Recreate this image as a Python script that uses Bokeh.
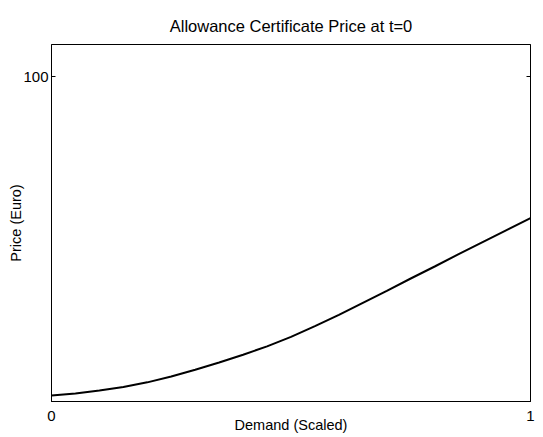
from bokeh.plotting import figure
from bokeh.embed import file_html
from bokeh.resources import INLINE
from bokeh.models import Range1d, FixedTicker, LinearAxis

# Data
demand = [0.00, 0.05, 0.10, 0.15, 0.20, 0.25, 0.30, 0.35, 0.40, 0.45, 0.50,
          0.55, 0.60, 0.65, 0.70, 0.75, 0.80, 0.85, 0.90, 0.95, 1.00]
price = [1.85, 2.5, 3.4, 4.5, 5.9, 7.7, 9.8, 12.0, 14.4, 17.0, 19.9,
         23.2, 26.7, 30.4, 34.1, 37.9, 41.6, 45.4, 49.1, 52.8, 56.5]
x_ticks = [0, 1]
y_ticks = [100]

FONT = "Liberation Sans"

p = figure(width=543, height=437, output_backend="svg", toolbar_location=None,
           x_range=Range1d(0, 1), y_range=Range1d(0, 110),
           min_border_left=51, min_border_right=13, min_border_top=44,
           min_border_bottom=36)

p.title.text = "Allowance Certificate Price at t=0"
p.title.align = "center"
p.title.text_font = FONT
p.title.text_font_size = "16.5px"
p.title.text_font_style = "normal"
p.title.text_color = "black"
p.title.standoff = 20

p.grid.visible = False
p.outline_line_color = "black"
p.outline_line_width = 1
p.background_fill_color = "white"
p.border_fill_color = "white"

for ax in (p.xaxis[0], p.yaxis[0]):
    ax.axis_line_color = "black"
    ax.major_tick_line_color = "black"
    ax.minor_tick_line_color = None
    ax.major_tick_in = 4
    ax.major_tick_out = 0
    ax.major_label_text_font = FONT
    ax.major_label_text_font_size = "15px"
    ax.major_label_text_color = "black"
    ax.axis_label_text_font = FONT
    ax.axis_label_text_font_size = "14.5px"
    ax.axis_label_text_font_style = "normal"
    ax.axis_label_text_color = "black"

p.xaxis[0].ticker = FixedTicker(ticks=x_ticks)
p.yaxis[0].ticker = FixedTicker(ticks=y_ticks)
p.xaxis[0].axis_label = "Demand (Scaled)"
p.yaxis[0].axis_label = "Price (Euro)"
p.xaxis[0].major_label_standoff = 9
p.xaxis[0].axis_label_standoff = -7
p.yaxis[0].major_label_standoff = 3
p.yaxis[0].axis_label_standoff = -4

# mirrored ticks on the right
r_ax = LinearAxis(ticker=FixedTicker(ticks=y_ticks), major_label_overrides={100: ""},
                  major_tick_in=4, major_tick_out=0, minor_tick_line_color=None,
                  axis_line_color="black", major_tick_line_color="black",
                  major_label_standoff=0)
p.add_layout(r_ax, "right")

p.line(demand, price, line_color="black", line_width=2)

open("out.html", "w").write(file_html(p, INLINE))
